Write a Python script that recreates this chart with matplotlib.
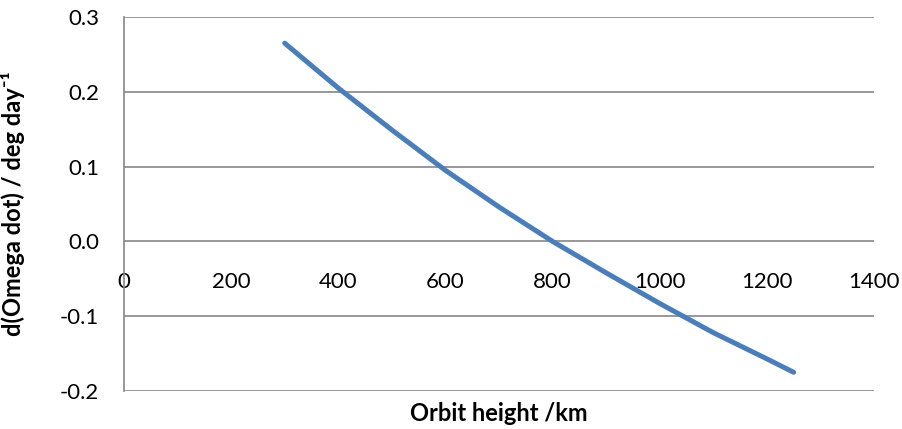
import matplotlib
matplotlib.use('Agg')
import matplotlib.pyplot as plt

plt.rcParams['font.family'] = ['Lato', 'DejaVu Sans']

# values
height_km = [300, 400, 500, 600, 700, 800, 900, 1000, 1100, 1200, 1250]
omega_dot = [0.265, 0.205, 0.149, 0.095, 0.046, 0.0, -0.042, -0.083, -0.122, -0.157, -0.175]
x_ticks = [0, 200, 400, 600, 800, 1000, 1200, 1400]
y_ticks = [-0.2, -0.1, 0.0, 0.1, 0.2, 0.3]

fig = plt.figure(figsize=(9.03, 4.29), dpi=100)
ax = fig.add_axes([124 / 903, 1 - 391 / 429, 750 / 903, 374 / 429])

grid_col = '#868686'
ax.plot(height_km, omega_dot, color='#4a7ebb', lw=3.6, solid_capstyle='round', zorder=3)

ax.set_xlim(0, 1400)
ax.set_ylim(-0.2, 0.3)
ax.set_xticks(x_ticks)
ax.set_yticks(y_ticks)
ax.set_yticklabels(['%.1f' % v for v in y_ticks])
ax.yaxis.grid(True, color=grid_col, lw=1.2)
ax.set_axisbelow(True)

for s in ['top', 'right', 'bottom']:
    ax.spines[s].set_visible(False)
ax.spines['left'].set_color(grid_col)
ax.spines['left'].set_linewidth(1.2)
ax.spines['bottom'].set_position(('data', 0))

ax.tick_params(axis='y', length=0, pad=18, labelsize=16)
ax.tick_params(axis='x', length=0, pad=22, labelsize=16)

ax.set_xlabel('Orbit height /km', fontsize=17, fontweight='bold')
ax.xaxis.set_label_coords(0.5, -0.03)
ax.set_ylabel('d(Omega dot) / deg day\u207b\u00b9', fontsize=17, fontweight='bold')
ax.yaxis.set_label_coords(-0.132, 0.5)

fig.savefig('out.png', dpi=100)
